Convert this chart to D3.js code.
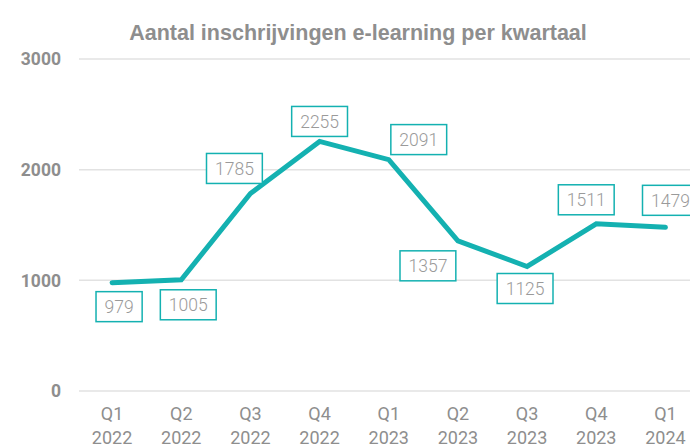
<!DOCTYPE html>
<html>
<head>
<meta charset="utf-8">
<script src="https://cdn.jsdelivr.net/npm/d3@7"></script>
<style>
  body { margin: 0; background: #fff; overflow: hidden; }
  svg { display: block; }
</style>
</head>
<body>
<div id="chart"></div>
<script>
// data
var quarters = ['Q1', 'Q2', 'Q3', 'Q4', 'Q1', 'Q2', 'Q3', 'Q4', 'Q1'];
var years = ['2022', '2022', '2022', '2022', '2023', '2023', '2023', '2023', '2024'];
var inschrijvingen = [979, 1005, 1785, 2255, 2091, 1357, 1125, 1511, 1479];
var yTicks = [0, 1000, 2000, 3000];
var title = 'Aantal inschrijvingen e-learning per kwartaal';

// label placement (offset of box centre from the point)
var labelOffset = [[7, 24], [7, 25], [-16, -25], [0, -20], [30, -20], [-30, 25], [-2, 22], [-10, -24], [5, -27]];

var W = 690, H = 447;
var teal = '#14b1b1';
var grey = '#8e8e8e';

var svg = d3.select('#chart')
    .append('svg')
    .attr('width', W)
    .attr('height', H);

var cats = quarters.map(function(q, i) { return q + ' ' + years[i]; });

var x = d3.scaleBand()
    .domain(cats)
    .range([77.5, 700])
    .padding(0);

var y = d3.scaleLinear()
    .domain([0, 3000])
    .range([391, 59]);

var cx = function(i) { return x(cats[i]) + x.bandwidth() / 2; };

// gridlines
svg.append('g')
    .selectAll('line')
    .data(yTicks)
    .enter()
    .append('line')
        .attr('x1', 79)
        .attr('x2', W)
        .attr('y1', function(d) { return y(d); })
        .attr('y2', function(d) { return y(d); })
        .attr('stroke', '#e2e2e2')
        .attr('stroke-width', 1.5);

// y labels
svg.append('g')
    .selectAll('text')
    .data(yTicks)
    .enter()
    .append('text')
        .attr('x', 61)
        .attr('y', function(d) { return y(d); })
        .attr('dy', '0.36em')
        .attr('text-anchor', 'end')
        .attr('font-family', 'Roboto, sans-serif')
        .attr('font-weight', 'bold')
        .attr('font-size', 17.5)
        .attr('fill', grey)
        .text(function(d) { return d; });

// x labels
var xl = svg.append('g')
    .selectAll('text')
    .data(cats)
    .enter()
    .append('text')
        .attr('text-anchor', 'middle')
        .attr('font-family', 'Roboto, sans-serif')
        .attr('font-size', 18)
        .attr('fill', grey);
xl.append('tspan')
    .attr('x', function(d, i) { return cx(i); })
    .attr('y', 420)
    .text(function(d, i) { return quarters[i]; });
xl.append('tspan')
    .attr('x', function(d, i) { return cx(i); })
    .attr('y', 444)
    .text(function(d, i) { return years[i]; });

// title
svg.append('text')
    .attr('x', 358)
    .attr('y', 39.5)
    .attr('text-anchor', 'middle')
    .attr('font-family', 'Liberation Sans, Arial, sans-serif')
    .attr('font-size', 21.5)
    .attr('font-weight', 'bold')
    .attr('fill', grey)
    .text(title);

// line
var line = d3.line()
    .x(function(d, i) { return cx(i); })
    .y(function(d) { return y(d); });

svg.append('path')
    .datum(inschrijvingen)
    .attr('d', line)
    .attr('fill', 'none')
    .attr('stroke', teal)
    .attr('stroke-width', 5)
    .attr('stroke-linecap', 'round')
    .attr('stroke-linejoin', 'miter');

// data labels
var lab = svg.append('g')
    .selectAll('g')
    .data(inschrijvingen)
    .enter()
    .append('g')
        .attr('transform', function(d, i) {
            return 'translate(' + (cx(i) + labelOffset[i][0]) + ',' + (y(d) + labelOffset[i][1]) + ')';
        });

var rects = lab.append('rect')
    .attr('fill', '#fff')
    .attr('stroke', teal)
    .attr('stroke-width', 1.5);

var txt = lab.append('text')
    .attr('text-anchor', 'middle')
    .attr('dy', '0.36em')
    .attr('font-family', 'Roboto, sans-serif')
    .attr('font-weight', 300)
    .attr('font-size', 17.5)
    .attr('fill', '#9a9a9a')
    .text(function(d) { return d; });

txt.each(function(d, i) {
    var tw = this.getComputedTextLength() + 17;
    d3.select(rects.nodes()[i])
        .attr('x', -tw / 2)
        .attr('y', -15)
        .attr('width', tw)
        .attr('height', 30);
});
</script>
</body>
</html>
